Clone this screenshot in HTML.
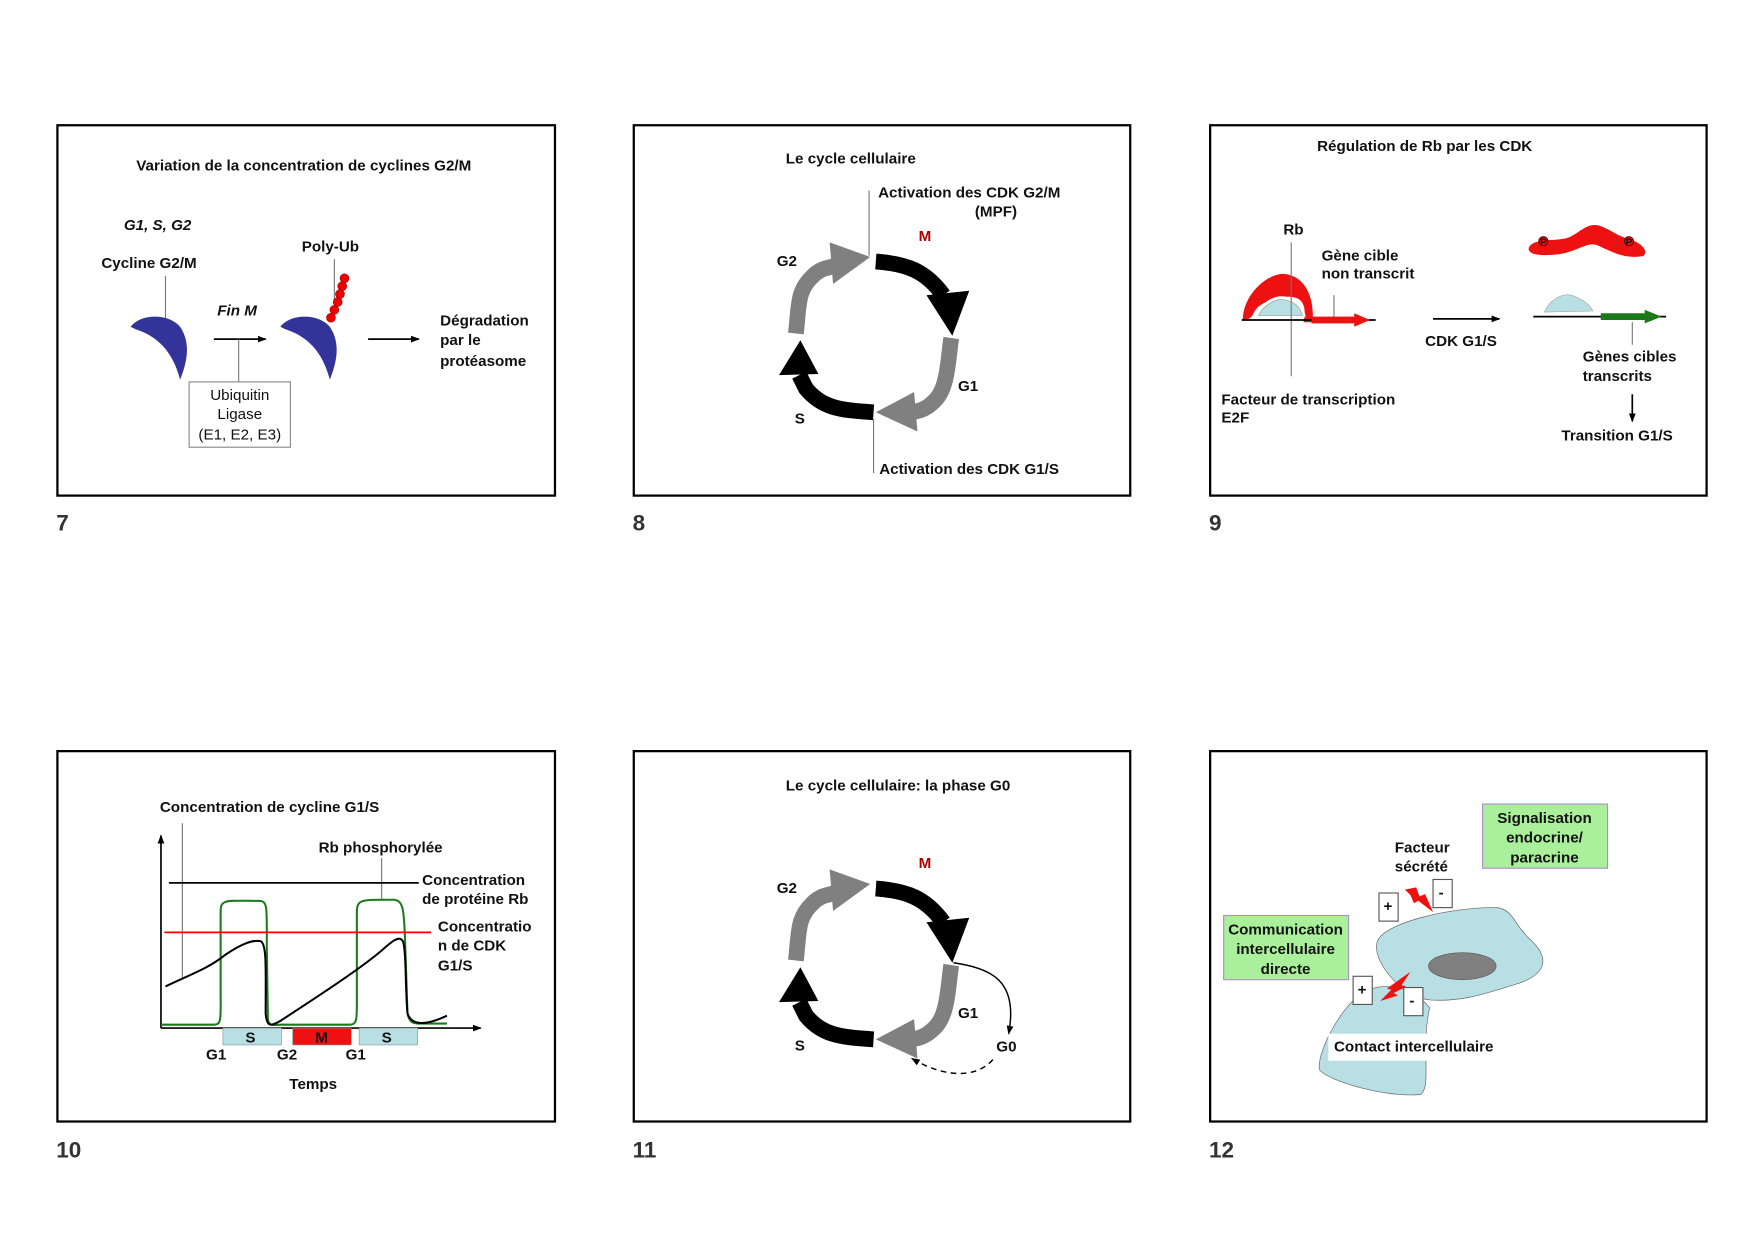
<!DOCTYPE html>
<html><head><meta charset="utf-8"><style>
html,body{margin:0;padding:0;background:#fff;}
svg{display:block;}
text{font-family:"Liberation Sans",sans-serif;font-size:13.5px;font-weight:bold;fill:#111;}
.n{font-size:20px;fill:#333;}
.r{font-weight:normal;}
</style></head><body>
<svg width="1755" height="1240" viewBox="0 0 1559 1101" xmlns="http://www.w3.org/2000/svg">
<defs>
<marker id="ah" markerWidth="8" markerHeight="8" refX="7" refY="4" orient="auto" markerUnits="userSpaceOnUse"><path d="M0,1 L8,4 L0,7 Z" fill="#000"/></marker>
<g id="cyc">
 <path d="M778,232 C805,234 822,240 838,262" stroke="#000" stroke-width="14" fill="none"/>
 <polygon points="823,262 861,258 846,298" fill="#000"/>
 <path d="M845,300 C842,320 842,345 830,356 C822,364 815,366 805,366" stroke="#808080" stroke-width="14" fill="none"/>
 <polygon points="812,348 778,366 815,383" fill="#808080"/>
 <path d="M776,366 C745,364 730,362 716,345 L710,333" stroke="#000" stroke-width="14" fill="none"/>
 <polygon points="692,333 711,302 727,332" fill="#000"/>
 <path d="M707,296 C710,270 708,258 722,245 C728,239 733,238 742,236" stroke="#808080" stroke-width="14" fill="none"/>
 <polygon points="737,215 773,228 740,252" fill="#808080"/>
 <text x="690" y="236">G2</text>
 <text x="816" y="214" style="fill:#b00000">M</text>
 <text x="851" y="347">G1</text>
 <text x="706" y="376">S</text>
</g>
</defs>
<g fill="none" stroke="#000" stroke-width="2">
<rect x="51" y="111" width="442" height="329"/>
<rect x="563" y="111" width="441" height="329"/>
<rect x="1075" y="111" width="441" height="329"/>
<rect x="51" y="667" width="442" height="329"/>
<rect x="563" y="667" width="441" height="329"/>
<rect x="1075" y="667" width="441" height="329"/>
</g>
<text class="n" x="50" y="471">7</text><text class="n" x="562" y="471">8</text><text class="n" x="1074" y="471">9</text>
<text class="n" x="50" y="1028">10</text><text class="n" x="562" y="1028">11</text><text class="n" x="1074" y="1028">12</text>

<!-- Panel 7 -->
<text x="121" y="151">Variation de la concentration de cyclines G2/M</text>
<text x="110" y="204" font-style="italic">G1, S, G2</text>
<text x="90" y="238">Cycline G2/M</text>
<line x1="147" y1="245" x2="147" y2="283" stroke="#777"/>
<path d="M116,290 C125,278 150,278 160,290 C170,305 166,322 160,337 C155,318 145,300 120,292 Z" fill="#333399"/>
<text x="193" y="280" font-style="italic">Fin M</text>
<line x1="190" y1="301" x2="236" y2="301" stroke="#000" stroke-width="1.5" marker-end="url(#ah)"/>
<line x1="212" y1="301" x2="212" y2="339" stroke="#777"/>
<rect x="168" y="339" width="90" height="58" fill="#fff" stroke="#888"/>
<text class="r" x="213" y="355" text-anchor="middle">Ubiquitin</text>
<text class="r" x="213" y="372" text-anchor="middle">Ligase</text>
<text class="r" x="213" y="390" text-anchor="middle">(E1, E2, E3)</text>
<text x="268" y="223">Poly-Ub</text>
<line x1="297" y1="230" x2="297" y2="275" stroke="#777"/>
<path d="M249,290 C258,278 283,278 293,290 C303,305 299,322 293,337 C288,318 278,300 253,292 Z" fill="#333399"/>
<g fill="#e00" stroke="#900" stroke-width=".5">
<circle cx="294" cy="282" r="4"/><circle cx="297" cy="275" r="4"/><circle cx="300" cy="268" r="4"/><circle cx="302" cy="261" r="4"/><circle cx="304" cy="254" r="4"/><circle cx="306" cy="247" r="4"/>
</g>
<line x1="327" y1="301" x2="372" y2="301" stroke="#000" stroke-width="1.5" marker-end="url(#ah)"/>
<text x="391" y="289">Dégradation</text><text x="391" y="306">par le</text><text x="391" y="325">protéasome</text>

<!-- Panel 8 -->
<text x="698" y="145">Le cycle cellulaire</text>
<text x="780" y="175">Activation des CDK G2/M</text>
<text x="866" y="192">(MPF)</text>
<line x1="772" y1="169" x2="772" y2="227" stroke="#777"/>
<line x1="776" y1="372" x2="776" y2="420" stroke="#777"/>
<text x="781" y="421">Activation des CDK G1/S</text>
<use href="#cyc"/>

<!-- Panel 9 -->
<text x="1170" y="134">Régulation de Rb par les CDK</text>
<text x="1140" y="208">Rb</text>
<text x="1174" y="231">Gène cible</text><text x="1174" y="247">non transcrit</text>
<path d="M1104,284 C1104,262 1125,243 1140,243 C1158,244 1168,262 1166,286 L1158,286 C1160,278 1160,266 1150,264 C1140,262 1128,265 1118,272 C1112,277 1114,284 1104,284 Z" fill="#ee1111"/>
<path d="M1114,281 C1120,268 1132,262 1140,263 C1152,264 1158,272 1160,281 Z" fill="#fff"/>
<path d="M1118,280 C1122,271 1133,265 1140,266 C1150,267 1155,273 1157,280 Z" fill="#b8dfe3" stroke="#888" stroke-width=".5"/>
<line x1="1147" y1="215" x2="1147" y2="334" stroke="#777"/>
<line x1="1185" y1="262" x2="1185" y2="282" stroke="#777"/>
<line x1="1103" y1="284" x2="1222" y2="284" stroke="#000" stroke-width="1.5"/>
<polygon points="1165,281 1203,281 1203,278 1217,284 1203,290 1203,287 1165,287" fill="#ee1111"/>
<text x="1085" y="359">Facteur de transcription</text><text x="1085" y="375">E2F</text>
<line x1="1273" y1="283" x2="1332" y2="283" stroke="#000" stroke-width="1.5" marker-end="url(#ah)"/>
<text x="1266" y="307">CDK G1/S</text>
<path d="M1358,220 C1362,210 1385,215 1395,210 C1405,205 1410,198 1420,200 C1430,203 1437,210 1447,212 C1457,215 1465,222 1460,227 C1445,230 1435,225 1420,218 C1410,213 1400,225 1380,226 C1368,227 1357,226 1358,220 Z" fill="#ee1111"/>
<circle cx="1371" cy="214" r="4" fill="#ee1111" stroke="#600"/><text x="1368" y="218" style="font-size:9px">P</text>
<circle cx="1447" cy="214" r="4" fill="#ee1111" stroke="#600"/><text x="1444" y="218" style="font-size:9px">P</text>
<path d="M1372,277 C1376,266 1388,260 1396,262 C1405,265 1412,270 1415,276 Z" fill="#b8dfe3" stroke="#999" stroke-width=".5"/>
<line x1="1362" y1="281" x2="1480" y2="281" stroke="#000" stroke-width="1.5"/>
<polygon points="1422,278 1461,278 1461,275 1476,281 1461,287 1461,284 1422,284" fill="#1a7a1a"/>
<line x1="1450" y1="286" x2="1450" y2="306" stroke="#777"/>
<text x="1406" y="321">Gènes cibles</text><text x="1406" y="338">transcrits</text>
<line x1="1450" y1="350" x2="1450" y2="374" stroke="#000" stroke-width="1.5" marker-end="url(#ah)"/>
<text x="1387" y="391">Transition G1/S</text>

<!-- Panel 10 -->
<text x="142" y="721">Concentration de cycline G1/S</text>
<line x1="162" y1="731" x2="162" y2="868" stroke="#777"/>
<line x1="143" y1="913" x2="143" y2="742" stroke="#000" stroke-width="1.5" marker-end="url(#ah)"/>
<line x1="143" y1="913" x2="427" y2="913" stroke="#000" stroke-width="1.5" marker-end="url(#ah)"/>
<text x="283" y="757">Rb phosphorylée</text>
<line x1="339" y1="762" x2="339" y2="798" stroke="#777"/>
<line x1="150" y1="784" x2="372" y2="784" stroke="#000" stroke-width="1.5"/>
<text x="375" y="786">Concentration</text><text x="375" y="803">de protéine Rb</text>
<path d="M143,910 L190,910 C197,910 196,905 196,880 L196,810 C196,798 200,800 230,800 C238,800 237,806 237,840 L238,905 C239,912 243,910 250,910 L310,910 C318,910 317,905 317,880 L317,810 C317,798 322,799 350,799 C358,800 359,806 360,840 L362,900 C364,910 367,909 380,909 L397,909" fill="none" stroke="#1a7a1a" stroke-width="1.8"/>
<line x1="146" y1="828" x2="383" y2="828" stroke="#ee0000" stroke-width="1.5"/>
<text x="389" y="827">Concentratio</text><text x="389" y="844">n de CDK</text><text x="389" y="862">G1/S</text>
<path d="M147,876 C170,865 185,860 200,848 C215,838 225,834 232,836 C237,840 236,860 236,900 C237,912 240,912 250,906 C290,880 320,860 338,845 C348,836 355,830 358,836 C361,845 360,880 362,900 C366,912 380,910 397,902" fill="none" stroke="#000" stroke-width="1.8"/>
<rect x="198" y="913" width="52" height="15" fill="#b8dfe3" stroke="#888" stroke-width=".5"/>
<rect x="260" y="913" width="52" height="15" fill="#ee1111" stroke="#888" stroke-width=".5"/>
<rect x="319" y="913" width="52" height="15" fill="#b8dfe3" stroke="#888" stroke-width=".5"/>
<text x="218" y="926">S</text><text x="280" y="926">M</text><text x="339" y="926">S</text>
<text x="183" y="941">G1</text><text x="246" y="941">G2</text><text x="307" y="941">G1</text>
<text x="257" y="967">Temps</text>

<!-- Panel 11 -->
<text x="698" y="702">Le cycle cellulaire: la phase G0</text>
<g transform="translate(0,557)"><use href="#cyc"/></g>
<path d="M847,855 C880,860 905,870 896,918" fill="none" stroke="#000" stroke-width="1.3" marker-end="url(#ah)"/>
<text x="885" y="934">G0</text>
<path d="M882,941 C865,960 835,955 810,940" fill="none" stroke="#000" stroke-width="1.3" stroke-dasharray="5,4" marker-end="url(#ah)"/>

<!-- Panel 12 -->
<path d="M1207,884 C1188,900 1170,935 1172,950 C1180,960 1230,975 1262,972 C1272,965 1262,930 1270,895 C1255,875 1225,870 1207,884 Z" fill="#b8dfe3" stroke="#666" stroke-width=".6"/>
<path d="M1223,838 C1225,820 1290,805 1330,806 C1345,808 1345,822 1360,835 C1378,852 1372,865 1350,873 C1320,882 1300,890 1270,888 C1245,885 1220,855 1223,838 Z" fill="#b8dfe3" stroke="#666" stroke-width=".6"/>
<ellipse cx="1299" cy="858" rx="30" ry="12" fill="#808080" stroke="#555" stroke-width=".6"/>
<rect x="1317" y="714" width="111" height="57" fill="#aaf09a" stroke="#a98fc9"/>
<text x="1372" y="731" text-anchor="middle">Signalisation</text><text x="1372" y="748" text-anchor="middle">endocrine/</text><text x="1372" y="766" text-anchor="middle">paracrine</text>
<rect x="1087" y="813" width="111" height="57" fill="#aaf09a" stroke="#a98fc9"/>
<text x="1142" y="830" text-anchor="middle">Communication</text><text x="1142" y="847" text-anchor="middle">intercellulaire</text><text x="1142" y="865" text-anchor="middle">directe</text>
<text x="1239" y="757">Facteur</text><text x="1239" y="774">sécrété</text>
<rect x="1225" y="793" width="17" height="25" fill="#fff" stroke="#555"/><text x="1229" y="809">+</text>
<rect x="1273" y="781" width="17" height="25" fill="#fff" stroke="#555"/><text x="1278" y="797">-</text>
<polygon points="1248,790 1258,788 1261,796 1266,794 1273,810 1260,800 1256,802 1253,795" fill="#ee1111"/>
<rect x="1202" y="867" width="17" height="25" fill="#fff" stroke="#555"/><text x="1206" y="883">+</text>
<rect x="1247" y="877" width="17" height="25" fill="#fff" stroke="#555"/><text x="1252" y="893">-</text>
<polygon points="1253,863 1245,875 1249,876 1238,882 1242,884 1226,889 1236,879 1232,878 1243,870" fill="#ee1111"/>
<rect x="1180" y="918" width="166" height="24" fill="#fff"/>
<text x="1185" y="934">Contact intercellulaire</text>
</svg>
</body></html>
